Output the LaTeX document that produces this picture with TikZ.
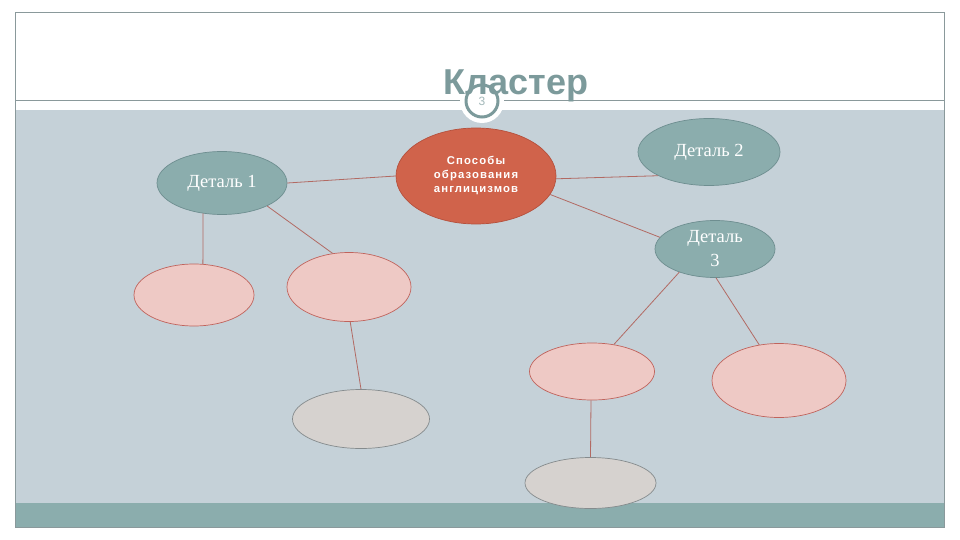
\documentclass[tikz,border=0pt]{standalone}
\usepackage{fontspec}
\setmainfont{Liberation Serif}
\setsansfont{Liberation Sans}
\newfontfamily\corefont[LetterSpace=10]{Liberation Sans}
\usetikzlibrary{shapes.geometric}
\definecolor{bandblue}{HTML}{C5D1D8}
\definecolor{tealfill}{HTML}{8BADAD}
\definecolor{tealedge}{HTML}{6E8E90}
\definecolor{redfill}{HTML}{D0634B}
\definecolor{rededge}{HTML}{B5503C}
\definecolor{pinkfill}{HTML}{EEC9C5}
\definecolor{pinkedge}{HTML}{C0635C}
\definecolor{grayfill}{HTML}{D6D2CF}
\definecolor{grayedge}{HTML}{858B8D}
\definecolor{linkcol}{HTML}{B26A63}
\definecolor{framecol}{HTML}{8A999B}
\definecolor{titlecol}{HTML}{7C9A9B}
\tikzset{
  oval/.style={ellipse, inner sep=0pt, line width=0.7pt},
  detail/.style={oval, fill=tealfill, draw=tealedge, text=white, font=\fontsize{18.5}{24}\selectfont, align=center},
  core/.style={oval, fill=redfill, draw=rededge, text=white, font=\corefont\bfseries\fontsize{11.3}{14}\selectfont},
  pinkoval/.style={oval, fill=pinkfill, draw=pinkedge},
  grayoval/.style={oval, fill=grayfill, draw=grayedge},
  link/.style={draw=linkcol, line width=0.8pt},
}
\begin{document}
\begin{tikzpicture}[x=1pt,y=-1pt]
\useasboundingbox (0,0) rectangle (960,540);
\fill[white] (0,0) rectangle (960,540);
% bands
\fill[bandblue] (15,110) rectangle (944,503);
\fill[tealfill] (15,503) rectangle (944,527);
\draw[framecol, line width=0.9pt] (15,100) -- (944,100);
\draw[framecol, line width=0.9pt] (15,12) rectangle (944,527);
% slide number badge
\fill[white] (482,101) circle (22);
\draw[titlecol, line width=3pt] (482,101) circle (16);
\node[font=\sffamily\fontsize{12}{12}\selectfont, text=titlecol!70!white] (num) at (482,101) {3};
% title
\node[anchor=base, font=\sffamily\bfseries\fontsize{36}{40}\selectfont, text=titlecol, inner sep=0pt] (title) at (516,95) {Кластер};
% nodes
\node[core, minimum width=160pt, minimum height=96pt] (c) at (476,176) {\raisebox{6pt}{\begin{tabular}{@{}c@{}}Способы\\образования\\англицизмов\end{tabular}}};
\node[detail, minimum width=130pt, minimum height=63pt] (d1) at (222,183) {Деталь 1};
\node[detail, minimum width=142pt, minimum height=67pt] (d2) at (709,152) {Деталь 2};
\node[detail, minimum width=120pt, minimum height=57pt] (d3) at (715,249) {Деталь\\3};
\node[pinkoval, minimum width=120pt, minimum height=62pt] (p1) at (194,295) {};
\node[pinkoval, minimum width=124pt, minimum height=69pt] (p2) at (349,287) {};
\node[grayoval, minimum width=137pt, minimum height=59pt] (g1) at (361,419) {};
\node[pinkoval, minimum width=125pt, minimum height=57pt] (p3) at (592,371.5) {};
\node[pinkoval, minimum width=134pt, minimum height=74pt] (p4) at (779,380.5) {};
\node[grayoval, minimum width=131pt, minimum height=51pt] (g2) at (590.5,483) {};
% connectors
\draw[link] (c.180) -- (d1.0);
\draw[link] (c.-2.4) -- (d2.205.8);
\draw[link] (c.-14.7) -- (d3.168);
\draw[link] (d1.238.3) -- (p1.74.5);
\draw[link] (d1.-27) -- (p2.116.6);
\draw[link] (p2.272) -- (g1.90);
\draw[link] (d3.213.8) -- (p3.51.2);
\draw[link] (d3.272) -- (p4.119.6);
\draw[link] (p3.268) -- (g2.90);
\end{tikzpicture}
\end{document}
